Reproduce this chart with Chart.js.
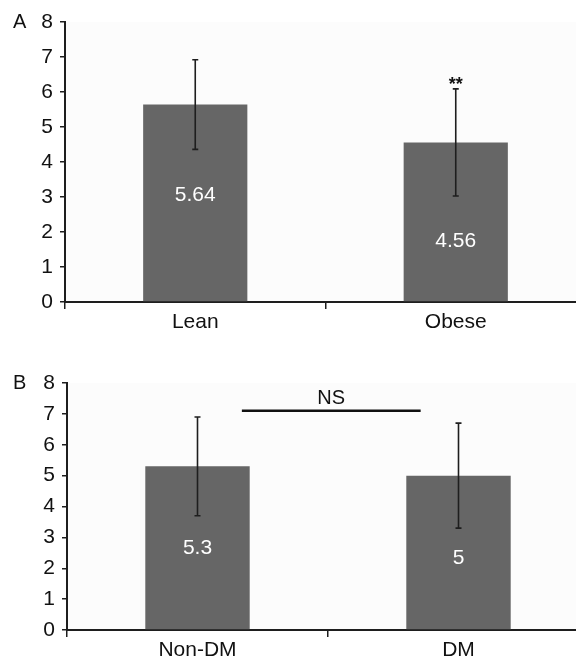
<!DOCTYPE html>
<html>
<head>
<meta charset="utf-8">
<script src="https://cdn.jsdelivr.net/npm/chart.js@4.4.1/dist/chart.umd.min.js"></script>
<style>
  html, body { margin: 0; padding: 0; background: #fff; width: 576px; height: 660px; overflow: hidden; }
  .panel { position: absolute; left: 0; width: 600px; height: 330px; }
  #panelA { top: 0; }
  #panelB { top: 330px; }
</style>
</head>
<body>
<div class="panel" id="panelA"><canvas id="chartA" width="600" height="330"></canvas></div>
<div class="panel" id="panelB"><canvas id="chartB" width="600" height="330"></canvas></div>
<script>
// panel A : lean vs obese
const groupsA = ["Lean", "Obese"];
const meansA = [5.64, 4.56];
const sdA = [1.28, 1.53];
const marksA = ["", "**"];

// panel B : non-diabetic vs diabetic
const groupsB = ["Non-DM", "DM"];
const meansB = [5.3, 5];
const sdB = [1.6, 1.7];

const yMin = 0;
const yMax = 8;
const yStep = 1;

const FONT = "'Liberation Sans', Arial, sans-serif";
Chart.defaults.font.family = FONT;
Chart.defaults.font.size = 21;
Chart.defaults.color = "#111";

// plot background, error bars, value labels, stars, NS bar, panel letter
const extras = {
  id: "extras",
  beforeDraw(chart, args, o) {
    const { ctx, chartArea: a } = chart;
    ctx.save();
    ctx.fillStyle = "#fcfcfc";
    ctx.fillRect(a.left, a.top, a.right - a.left, a.bottom - a.top);
    ctx.restore();
  },
  afterDatasetsDraw(chart, args, o) {
    const ctx = chart.ctx;
    const x = chart.scales.x, y = chart.scales.y;
    const vals = chart.data.datasets[0].data;
    ctx.save();
    vals.forEach((v, i) => {
      const px = x.getPixelForValue(i);
      const top = y.getPixelForValue(v + o.errors[i]);
      const bot = y.getPixelForValue(v - o.errors[i]);
      ctx.strokeStyle = "#1e1e1e";
      ctx.lineWidth = 1.6;
      ctx.beginPath();
      ctx.moveTo(px, top); ctx.lineTo(px, bot);
      ctx.moveTo(px - 3, top); ctx.lineTo(px + 3, top);
      ctx.moveTo(px - 3, bot); ctx.lineTo(px + 3, bot);
      ctx.stroke();

      ctx.fillStyle = "#fff";
      ctx.font = "21px " + FONT;
      ctx.textAlign = "center";
      ctx.textBaseline = "middle";
      ctx.fillText(String(v), px, y.getPixelForValue(o.labelAt[i]));

      if (o.marks && o.marks[i]) {
        ctx.fillStyle = "#111";
        ctx.font = "bold 18px " + FONT;
        ctx.textBaseline = "alphabetic";
        ctx.fillText(o.marks[i], px, top + 1);
      }
    });

    if (o.bracket) {
      const b = o.bracket;
      const by = y.getPixelForValue(b.at);
      ctx.strokeStyle = "#111";
      ctx.lineWidth = 2.5;
      ctx.beginPath();
      ctx.moveTo(x.getPixelForValue(b.from), by);
      ctx.lineTo(x.getPixelForValue(b.to), by);
      ctx.stroke();
      ctx.fillStyle = "#111";
      ctx.font = "20px " + FONT;
      ctx.textAlign = "center";
      ctx.textBaseline = "alphabetic";
      ctx.fillText(b.text, (x.getPixelForValue(b.from) + x.getPixelForValue(b.to)) / 2, by - 7);
    }

    ctx.fillStyle = "#111";
    ctx.font = "20px " + FONT;
    ctx.textAlign = "left";
    ctx.textBaseline = "middle";
    ctx.fillText(o.letter, 13, y.getPixelForValue(yMax));
    ctx.restore();
  }
};

function makeChart(id, labels, values, errors, opts) {
  return new Chart(document.getElementById(id), {
    type: "bar",
    data: {
      labels: labels,
      datasets: [{
        data: values,
        backgroundColor: "#666666",
        borderWidth: 0,
        categoryPercentage: 1,
        barPercentage: 0.4
      }]
    },
    options: {
      responsive: false,
      animation: false,
      layout: { padding: { top: opts.top, right: opts.right, left: 0, bottom: 0 } },
      plugins: {
        legend: { display: false },
        tooltip: { enabled: false },
        extras: {
          errors: errors,
          labelAt: opts.labelAt,
          marks: opts.marks,
          bracket: opts.bracket,
          letter: opts.letter
        }
      },
      scales: {
        y: {
          min: yMin,
          max: yMax,
          ticks: { stepSize: yStep, padding: 7, color: "#111" },
          grid: { drawOnChartArea: false, tickLength: 5, color: "#1e1e1e", lineWidth: 1.5 },
          border: { color: "#1e1e1e", width: 2 },
          afterFit: s => { s.width = opts.axisLeft; }
        },
        x: {
          ticks: { padding: 1, color: "#111" },
          grid: { drawOnChartArea: false, tickLength: 7, color: "#1e1e1e", lineWidth: 1.5, offset: true },
          border: { color: "#1e1e1e", width: 2 },
          afterFit: s => { s.height = opts.axisH; }
        }
      }
    },
    plugins: [extras]
  });
}

makeChart("chartA", groupsA, meansA, sdA, {
  top: 22, right: 14, axisLeft: 65, axisH: 28,
  labelAt: [3.05, 1.75],
  marks: marksA,
  letter: "A"
});

makeChart("chartB", groupsB, meansB, sdB, {
  top: 53, right: 11, axisLeft: 67, axisH: 30,
  labelAt: [2.65, 2.33],
  marks: null,
  bracket: { from: 0.17, to: 0.855, at: 7.1, text: "NS" },
  letter: "B"
});
</script>
</body>
</html>
